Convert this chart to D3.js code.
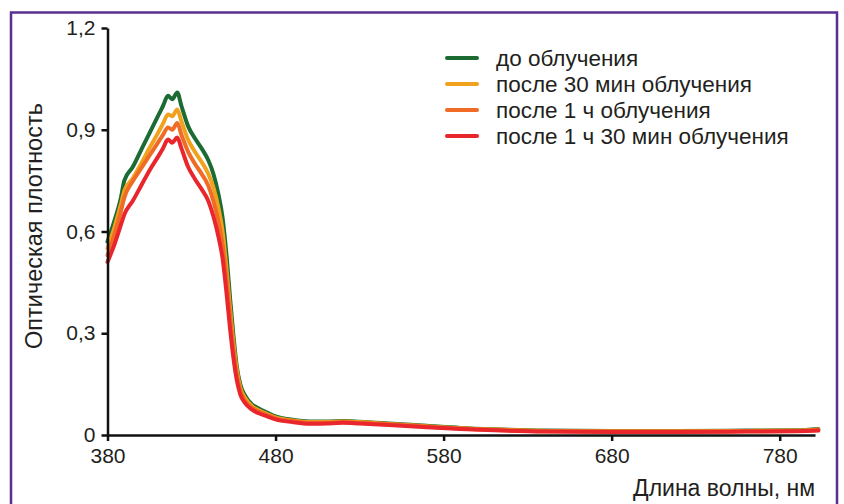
<!DOCTYPE html>
<html lang="ru">
<head>
    <meta charset="UTF-8">
    <title>Оптическая плотность</title>
    <script src="https://d3js.org/d3.v7.min.js"></script>
    <style>
        html, body {
            margin: 0;
            padding: 0;
            background-color: #ffffff;
            font-family: 'Liberation Sans', Arial, sans-serif;
        }
        svg text {
            fill: #231f20;
        }
    </style>
</head>
<body>
    <div id="chart"></div>
    <script>
        // wavelength, nm (shared by all series)
        const wavelengths = [380, 384, 388, 390, 395, 400, 405, 410, 413, 416, 418.5, 421.5, 424, 428, 432, 436, 440, 443, 446, 448.5, 451, 453, 455, 457, 459, 462, 466, 470, 475, 480, 490, 500, 510, 520, 530, 550, 570, 590, 610, 640, 680, 720, 760, 790, 803];

        const beforeIrr = [0.57, 0.63, 0.70, 0.75, 0.79, 0.84, 0.89, 0.94, 0.97, 1.00, 0.99, 1.01, 0.97, 0.91, 0.875, 0.845, 0.81, 0.77, 0.71, 0.64, 0.52, 0.40, 0.29, 0.20, 0.15, 0.115, 0.09, 0.078, 0.066, 0.055, 0.045, 0.040, 0.040, 0.041, 0.039, 0.033, 0.027, 0.021, 0.017, 0.013, 0.012, 0.012, 0.013, 0.014, 0.018];
        const after30min = [0.55, 0.61, 0.68, 0.72, 0.756, 0.80, 0.846, 0.89, 0.918, 0.945, 0.94, 0.96, 0.925, 0.87, 0.835, 0.805, 0.77, 0.73, 0.67, 0.60, 0.48, 0.37, 0.27, 0.19, 0.14, 0.108, 0.085, 0.073, 0.062, 0.052, 0.043, 0.038, 0.038, 0.040, 0.038, 0.032, 0.026, 0.020, 0.016, 0.012, 0.011, 0.011, 0.012, 0.013, 0.016];
        const after1h = [0.53, 0.59, 0.66, 0.70, 0.748, 0.786, 0.824, 0.862, 0.885, 0.907, 0.90, 0.92, 0.885, 0.835, 0.80, 0.77, 0.735, 0.69, 0.63, 0.56, 0.45, 0.345, 0.25, 0.175, 0.13, 0.10, 0.08, 0.069, 0.059, 0.049, 0.041, 0.036, 0.036, 0.038, 0.036, 0.031, 0.025, 0.019, 0.015, 0.011, 0.010, 0.010, 0.011, 0.012, 0.015];
        const after1h30 = [0.51, 0.56, 0.62, 0.65, 0.69, 0.735, 0.78, 0.82, 0.845, 0.871, 0.862, 0.877, 0.845, 0.79, 0.755, 0.725, 0.69, 0.645, 0.585, 0.52, 0.41, 0.31, 0.225, 0.16, 0.12, 0.093, 0.075, 0.064, 0.055, 0.046, 0.038, 0.033, 0.034, 0.036, 0.034, 0.029, 0.023, 0.018, 0.014, 0.010, 0.009, 0.009, 0.010, 0.011, 0.013];

        const seriesNames = ["до облучения", "после 30 мин облучения", "после 1 ч облучения", "после 1 ч 30 мин облучения"];
        const colours = ["#1b6b33", "#f0a21e", "#ef6b26", "#e8262b"];

        const xTicks = [380, 480, 580, 680, 780];
        const yTicks = [0, 0.3, 0.6, 0.9, 1.2];
        const yTickLabels = ["0", "0,3", "0,6", "0,9", "1,2"];

        const W = 844, H = 504;

        const series = [beforeIrr, after30min, after1h, after1h30].map((vals, i) => ({
            name: seriesNames[i],
            colour: colours[i],
            points: wavelengths.map((w, j) => ({ x: w, y: vals[j] }))
        }));

        const svg = d3.select("#chart")
            .append("svg")
            .attr("width", W)
            .attr("height", H);

        // purple frame
        svg.append("rect")
            .attr("x", 11)
            .attr("y", 12.5)
            .attr("width", 826)
            .attr("height", 600)
            .attr("fill", "none")
            .attr("stroke", "#5b2f91")
            .attr("stroke-width", 2.5);

        const x = d3.scaleLinear().domain([380, 801]).range([107.5, 815]);
        const y = d3.scaleLinear().domain([0, 1.2]).range([435, 28]);

        const line = d3.line()
            .x(d => x(d.x))
            .y(d => y(d.y))
            .curve(d3.curveMonotoneX);

        svg.append("g")
            .selectAll("path")
            .data(series)
            .enter()
            .append("path")
            .attr("d", d => line(d.points))
            .attr("fill", "none")
            .attr("stroke", d => d.colour)
            .attr("stroke-width", 4)
            .attr("stroke-linejoin", "round")
            .attr("stroke-linecap", "round");

        // axes
        const xAxis = svg.append("g")
            .attr("transform", `translate(0,${y(0)})`)
            .call(d3.axisBottom(x).tickValues(xTicks).tickSize(6).tickSizeOuter(0).tickPadding(7));

        const yAxis = svg.append("g")
            .attr("transform", `translate(${x(380)},0)`)
            .call(d3.axisLeft(y).tickValues(yTicks).tickSize(6).tickSizeOuter(0).tickPadding(6)
                .tickFormat((d, i) => yTickLabels[i]));

        [xAxis, yAxis].forEach(g => {
            g.selectAll("path, line").attr("stroke", "#111").attr("stroke-width", 2.5);
            g.selectAll("text")
                .style("font-family", "'Liberation Sans', Arial, sans-serif")
                .style("font-size", "21px")
                .attr("fill", "#231f20");
        });

        // axis titles
        svg.append("text")
            .attr("x", 815)
            .attr("y", 496)
            .attr("text-anchor", "end")
            .style("font-size", "23px")
            .text("Длина волны, нм");

        svg.append("text")
            .attr("transform", "translate(42,226) rotate(-90)")
            .attr("text-anchor", "middle")
            .style("font-size", "23.5px")
            .text("Оптическая плотность");

        // legend
        const legend = svg.append("g")
            .attr("transform", "translate(447,58)");

        legend.selectAll("line")
            .data(series)
            .enter()
            .append("line")
            .attr("x1", 0)
            .attr("x2", 30)
            .attr("y1", (d, i) => i * 26)
            .attr("y2", (d, i) => i * 26)
            .attr("stroke", d => d.colour)
            .attr("stroke-width", 4)
            .attr("stroke-linecap", "round");

        legend.selectAll("text")
            .data(series)
            .enter()
            .append("text")
            .attr("x", 49)
            .attr("y", (d, i) => i * 26)
            .attr("dy", "0.35em")
            .style("font-size", "22.5px")
            .text(d => d.name);
    </script>
</body>
</html>
